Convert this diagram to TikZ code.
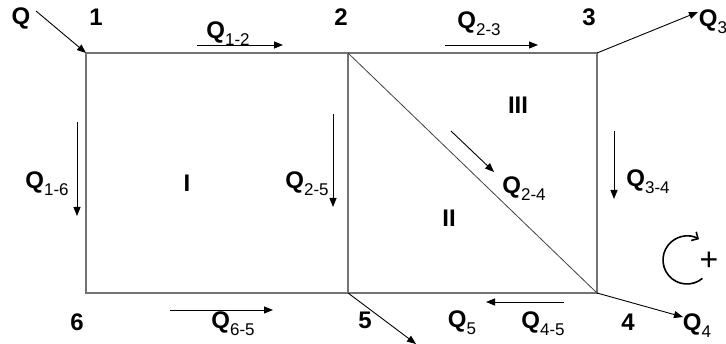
\documentclass[tikz,border=0pt]{standalone}
\usepackage{fontspec}
\setmainfont{Liberation Sans}
\usetikzlibrary{arrows.meta,calc}
\newcommand{\sbx}[1]{\raisebox{-0.3em}{\fontsize{17}{18}\selectfont\mdseries #1}}
\begin{document}
\begin{tikzpicture}[x=1pt,y=-1pt,
  frame/.style={draw=black!55,line width=1.3pt},
  flow/.style={draw=black,line width=0.9pt,-{Triangle[length=9pt,width=7pt]}},
  lbl/.style={font=\fontsize{24}{28}\selectfont\bfseries,inner sep=0pt},
  ]
\useasboundingbox (0,0) rectangle (726,344);
\coordinate (n1) at (86,53);
\coordinate (n2) at (348,53);
\coordinate (n3) at (597,53);
\coordinate (n4) at (597,293);
\coordinate (n5) at (348,293);
\coordinate (n6) at (86,293);
\draw[frame] (n1) -- (n3) -- (n4) -- (n6) -- cycle;
\draw[frame] (n2) -- (n5);
\draw[draw=black!75,line width=0.8pt] (n2) -- (n4);
% node labels
\node[lbl] (t1) at (96,17) {1};
\node[lbl] (t2) at (341,17) {2};
\node[lbl] (t3) at (589,17) {3};
\node[lbl] (t4) at (628,322) {4};
\node[lbl] (t5) at (365,320) {5};
\node[lbl] (t6) at (77,322) {6};
% region labels
\node[lbl] (rI) at (187,183) {I};
\node[lbl] (rII) at (449,218) {II};
\node[lbl] (rIII) at (518,105) {III};
% external flows
\node[lbl] (qin) at (21,18) {Q};
\coordinate (qinS) at (36,11);
\draw[flow] (qinS) -- (n1);
\coordinate (q3E) at (698,12);
\draw[flow] (n3) -- (q3E);
\node[lbl] (q3) at (713,22) {Q\sbx{3}};
\coordinate (q4E) at (683,317);
\draw[flow] (n4) -- (q4E);
\node[lbl] (q4) at (697,326) {Q\sbx{4}};
\coordinate (q5E) at (416,344);
\draw[flow] (n5) -- (q5E);
\node[lbl] (q5) at (462,323) {Q\sbx{5}};
% internal flows
\coordinate (a12s) at (197,45); \coordinate (a12e) at (283,45);
\draw[flow] (a12s) -- (a12e);
\node[lbl] (q12) at (228,34) {Q\sbx{1-2}};
\coordinate (a23s) at (445,45); \coordinate (a23e) at (538,45);
\draw[flow] (a23s) -- (a23e);
\node[lbl] (q23) at (479,24) {Q\sbx{2-3}};
\coordinate (a16s) at (77,122); \coordinate (a16e) at (77,216);
\draw[flow] (a16s) -- (a16e);
\node[lbl] (q16) at (47,184) {Q\sbx{1-6}};
\coordinate (a25s) at (333,114); \coordinate (a25e) at (333,207);
\draw[flow] (a25s) -- (a25e);
\node[lbl] (q25) at (307,184) {Q\sbx{2-5}};
\coordinate (a34s) at (614,131); \coordinate (a34e) at (614,199);
\draw[flow] (a34s) -- (a34e);
\node[lbl] (q34) at (648,182) {Q\sbx{3-4}};
\coordinate (a24s) at (451,131); \coordinate (a24e) at (494,172);
\draw[flow] (a24s) -- (a24e);
\node[lbl] (q24) at (524,189) {Q\sbx{2-4}};
\coordinate (a45s) at (564,302); \coordinate (a45e) at (486,302);
\draw[flow] (a45s) -- (a45e);
\node[lbl] (q45) at (543,324) {Q\sbx{4-5}};
\coordinate (a65s) at (170,310); \coordinate (a65e) at (273,310);
\draw[flow] (a65s) -- (a65e);
\node[lbl] (q65) at (233,324) {Q\sbx{6-5}};
% rotation sign
\coordinate (rc) at (687,260);
\draw[line width=1.6pt,-{Straight Barb[length=5pt,width=10pt]}] ($(rc)+(50:24)$) arc[start angle=50,end angle=300,radius=24];
\node[font=\fontsize{32}{34}\selectfont,inner sep=0pt] (plus) at (709,261) {+};
\end{tikzpicture}
\end{document}
